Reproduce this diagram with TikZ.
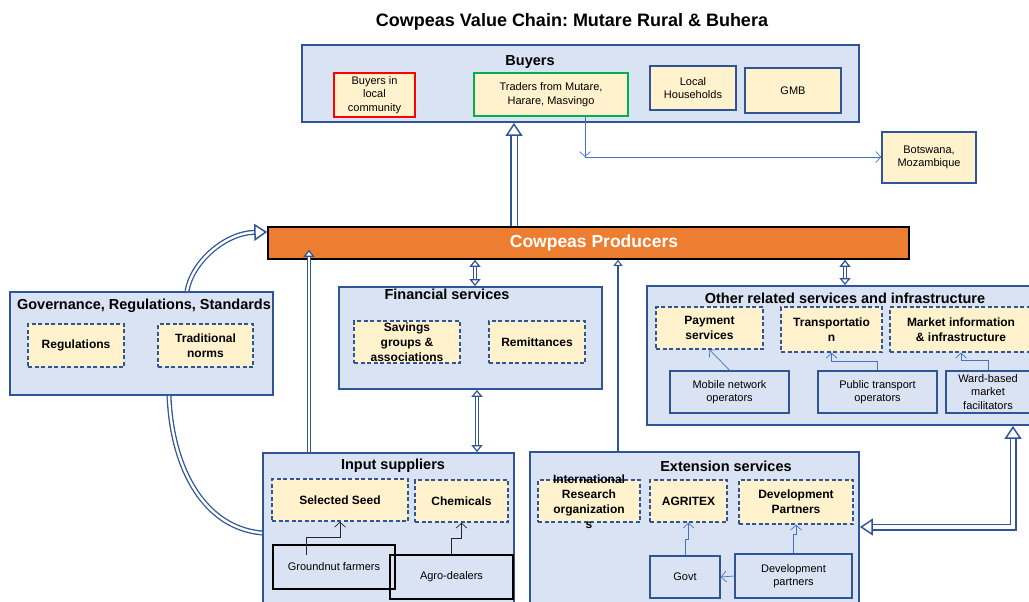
\documentclass[tikz,border=0pt]{standalone}
\usepackage{fontspec}
\setmainfont{Liberation Sans}
\usetikzlibrary{arrows.meta,calc}
\frenchspacing
\definecolor{dblue}{HTML}{2F5597}
\definecolor{lblue}{HTML}{4472C4}
\definecolor{boxfill}{HTML}{DAE3F3}
\definecolor{cream}{HTML}{FFF2CC}
\definecolor{prodorange}{HTML}{ED7D31}
\definecolor{gbox}{HTML}{00B050}
\tikzset{
  bigbox/.style={draw=dblue, fill=boxfill, line width=1.8pt, inner sep=0pt},
  ttl/.style={font=\fontsize{14.5}{17}\selectfont\bfseries, inner sep=0pt, text=black},
  dbox/.style={draw=dblue, fill=cream, line width=1.4pt, dash pattern=on 4pt off 2.5pt, inner sep=0pt, align=center, font=\fontsize{12}{15}\selectfont\bfseries},
  dlabel/.style={inner sep=0pt, align=center, font=\fontsize{12}{15}\selectfont\bfseries},
  cbox/.style={draw=dblue, fill=cream, line width=1.6pt, inner sep=0pt, align=center, font=\fontsize{11}{13.5}\selectfont},
  sbox/.style={draw=dblue, line width=1.6pt, inner sep=0pt, align=center, font=\fontsize{11}{13.5}\selectfont},
  kbox/.style={draw=black, line width=1.6pt, inner sep=0pt, align=center, font=\fontsize{11}{13.5}\selectfont},
  thinarr/.style={draw=lblue, line width=0.7pt, -{Straight Barb[length=5pt,width=11pt]}},
  blackarr/.style={draw=black!85, line width=0.7pt, -{Straight Barb[length=5pt,width=11pt]}},
  htip/.tip={Triangle[open,fill=white,length=13pt,width=17pt,line width=1.5pt]},
  stip/.tip={Triangle[open,fill=white,length=7pt,width=11pt,line width=1.2pt]},
  hollow/.style={draw=dblue, line width=1.5pt, double=white, double distance=4pt},
  chollow/.style={draw=dblue, line width=1.3pt, double=white, double distance=2.4pt},
  shollow/.style={draw=dblue, line width=1.2pt, double=white, double distance=2.4pt},
}
\begin{document}
\begin{tikzpicture}[x=1pt,y=-1pt]
\useasboundingbox (0,0) rectangle (1029,602);

\node[ttl, font=\fontsize{18}{20}\selectfont\bfseries] (title) at (572,22) {Cowpeas Value Chain: Mutare Rural \& Buhera};

% Buyers
\node[bigbox, minimum width=557pt, minimum height=77pt] (buyers) at (580.5,83.5) {};
\node[ttl] (buyersT) at (530,62) {Buyers};
\node[cbox, draw=red, minimum width=81pt, minimum height=44pt] (bil) at (374.5,95) {Buyers in\\local\\community};
\node[cbox, draw=gbox, minimum width=154pt, minimum height=43pt] (traders) at (551,94.5) {Traders from Mutare,\\Harare, Masvingo};
\node[cbox, minimum width=86pt, minimum height=44pt] (lhh) at (693,88) {Local\\Households};
\node[cbox, minimum width=96pt, minimum height=45pt] (gmb) at (793,90.5) {GMB};
\node[cbox, minimum width=94pt, minimum height=51pt] (bots) at (929,157.5) {Botswana,\\Mozambique};

% Producers
\node[draw=black, fill=prodorange, line width=1.6pt, minimum width=641pt, minimum height=32pt, inner sep=0pt, text=white, font=\fontsize{17.5}{20}\selectfont\bfseries] (prod) at (588.5,243) {\hspace*{11pt}Cowpeas Producers};

% Governance
\node[bigbox, minimum width=263pt, minimum height=103pt] (gov) at (141.5,343.5) {};
\node[ttl] (govT) at (144,306) {Governance, Regulations, Standards};
\node[dbox, minimum width=96pt, minimum height=43pt] (reg) at (76,345.5) {Regulations};
\node[dbox, minimum width=95pt, minimum height=43pt] (trad) at (205.5,345.5) {Traditional\\norms};

% Financial
\node[bigbox, minimum width=263pt, minimum height=102pt] (fin) at (470.5,338) {};
\node[ttl] (finT) at (447,294) {Financial services};
\node[dbox, minimum width=106pt, minimum height=42pt] (sav) at (407,342) {Savings\\groups \&\\associations};
\node[dbox, minimum width=96pt, minimum height=42pt] (rem) at (537,342) {Remittances};

% Other services
\node[bigbox, minimum width=393pt, minimum height=139pt] (other) at (843.5,355.5) {};
\node[ttl] (otherT) at (845,298) {Other related services and infrastructure};
\node[dbox, minimum width=107pt, minimum height=42pt] (pay) at (709.5,328) {Payment\\services};
\node[dbox, minimum width=101pt, minimum height=45pt] (transp) at (831.5,329.5) {Transportatio\\n};
\node[dbox, minimum width=142pt, minimum height=45pt] (mkt) at (961,329.5) {Market information\\\& infrastructure};
\node[sbox, minimum width=119pt, minimum height=42pt] (mobile) at (729.5,392) {Mobile network\\operators};
\node[sbox, minimum width=119pt, minimum height=42pt] (public) at (877.5,392) {Public transport\\operators};
\node[sbox, minimum width=84pt, minimum height=42pt] (ward) at (988,392) {Ward-based\\market\\facilitators};

% Input suppliers
\node[bigbox, minimum width=251pt, minimum height=159pt] (input) at (388.5,532.5) {};
\node[ttl] (inputT) at (393,466) {Input suppliers};
\node[dbox, minimum width=136pt, minimum height=42pt] (seed) at (340,500) {Selected Seed};
\node[dbox, minimum width=93pt, minimum height=42pt] (chem) at (461.5,501) {Chemicals};
\node[kbox, minimum width=122pt, minimum height=44pt] (gnut) at (334,567) {Groundnut farmers};
\node[kbox, minimum width=123pt, minimum height=44pt] (agro) at (451.5,577) {Agro-dealers};

% Extension services
\node[bigbox, minimum width=329pt, minimum height=160pt] (ext) at (694.5,532) {};
\node[ttl] (extT) at (726,466) {Extension services};
\node[dbox, minimum width=102pt, minimum height=42pt] (intl) at (589,501) {};
\node[dlabel] (intlT) at (589,502) {International\\Research\\organization\\s};
\node[dbox, minimum width=77pt, minimum height=42pt] (agritex) at (688.5,501) {AGRITEX};
\node[dbox, minimum width=114pt, minimum height=44pt] (devp) at (796,502) {Development\\Partners};
\node[sbox, minimum width=70pt, minimum height=42pt] (govt) at (685,577) {Govt};
\node[sbox, minimum width=117pt, minimum height=44pt] (devpart) at (793.5,576) {Development\\partners};

% Hollow connectors
\draw[hollow, line width=1.7pt, double distance=5pt, -htip] (prod.north -| 514,0) -- (buyers.south -| 514,0);
\draw[chollow, -htip] (gov.north -| 187,0) .. controls (192,262) and (225,233) .. (prod.west |- 0,232);
\draw[chollow] (gov.south -| 169,0) .. controls (172,470) and (205,528) .. (input.west |- 0,533);
\draw[shollow, -stip] (input.north -| 309,0) -- ($(prod.south -| 309,0)+(0,-10)$);
\draw[shollow, stip-stip] (prod.south -| 475,0) -- (fin.north -| 475,0);
\draw[shollow, stip-stip] (fin.south -| 477,0) -- (input.north -| 477,0);
\draw[draw=dblue, line width=2.8pt, -{Triangle[open,fill=white,length=6pt,width=9pt,line width=1pt]}] (ext.north -| 618,0) -- (prod.south -| 618,0);
\draw[shollow, stip-stip] (prod.south -| 845,0) -- (other.north -| 845,0);
\draw[hollow, htip-htip] (other.south -| 1013,0) |- (ext.east |- 0,527);

% Thin connectors
\coordinate (tb) at (585,157);
\draw[thinarr] (traders.south -| tb) -- (tb);
\draw[thinarr] (tb) -- (tb -| bots.west);
\draw[thinarr] (mobile.north) -- (pay.south);
\draw[thinarr] (public.north) -- ++(0,-9) -| (transp.south);
\draw[thinarr] (ward.north) -- ++(0,-10) -| (mkt.south);
\draw[blackarr] ($(gnut.north)+(-28,11)$) -- ++(0,-18) -| (seed.south);
\draw[blackarr] (agro.north) -- ++(0,-16) -| (chem.south);
\draw[thinarr] (govt.north) -- ++(0,-16) -| (agritex.south);
\draw[thinarr] (devpart.north) -- ++(0,-19) -| (devp.south);
\draw[thinarr] (devpart.west) -- (govt.east);
\end{tikzpicture}
\end{document}
